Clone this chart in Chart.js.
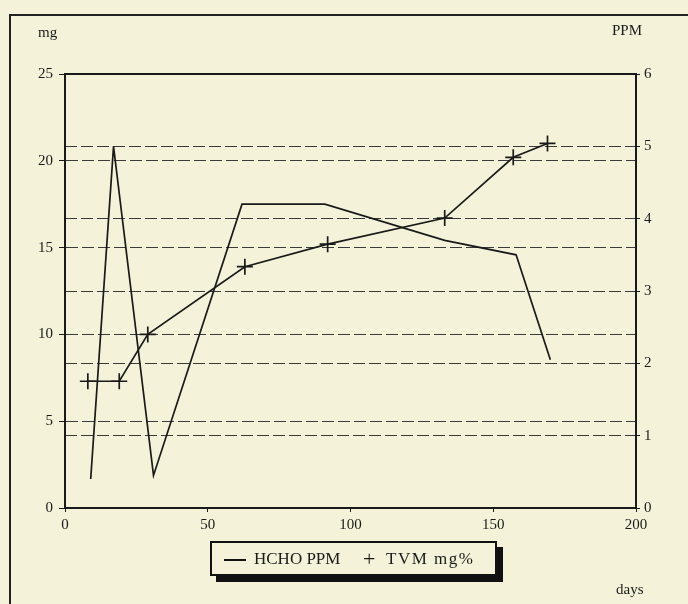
<!DOCTYPE html>
<html><head><meta charset="utf-8">
<script src="https://cdn.jsdelivr.net/npm/chart.js@4"></script>
<style>
html,body{margin:0;padding:0;background:#f4f3d9;}
#wrap{position:relative;width:688px;height:604px;overflow:hidden;background:#f4f3d9;font-family:"Liberation Serif","DejaVu Serif",serif;color:#1a1a1a;}
#frame{position:absolute;left:9px;top:14px;width:700px;height:620px;border:2px solid #222;box-sizing:border-box;}
canvas{position:absolute;left:0;top:0;}
.lbl{position:absolute;font-size:15px;}
#legend{position:absolute;left:210px;top:541px;width:287px;height:35px;border:2px solid #111;box-sizing:border-box;background:#f4f3d9;box-shadow:6px 6px 0 #111;font-size:17px;}
#legend span{position:absolute;white-space:pre;top:6px;}
#legend .ln{position:absolute;left:12px;top:16px;width:22px;height:0;border-top:2px solid #111;}
</style></head>
<body><div id="wrap">
<div id="frame"></div>
<canvas id="c" width="688" height="604"></canvas>
<div class="lbl" style="left:38px;top:24px;">mg</div>
<div class="lbl" style="left:612px;top:22px;">PPM</div>
<div class="lbl" style="left:616px;top:581px;">days</div>
<div id="legend"><div class="ln"></div><span style="left:42px;">HCHO PPM</span><span style="left:151px;top:3px;font-size:22px;">+</span><span style="left:174px;letter-spacing:1.5px;">TVM mg%</span></div>
</div>
<script>
const hchoDays = [9, 17, 31, 62, 91, 133, 158, 170];
const hchoPPM = [0.4, 5.0, 0.45, 4.2, 4.2, 3.7, 3.5, 2.05];
const tvmDays = [8, 19, 29, 63, 92, 133, 157, 169];
const tvmMg = [7.3, 7.3, 10.0, 13.9, 15.2, 16.7, 20.2, 21.0];
const xTicks = [0, 50, 100, 150, 200];
const mgTicks = [0, 5, 10, 15, 20, 25];
const ppmTicks = [0, 1, 2, 3, 4, 5, 6];

const frameBox = {
  id: 'frameBox',
  afterDatasetsDraw(chart) {
    const a = chart.chartArea, ctx = chart.ctx;
    ctx.save();
    ctx.strokeStyle = '#1a1a1a';
    ctx.lineWidth = 2;
    ctx.strokeRect(a.left, a.top, a.right - a.left, a.bottom - a.top);
    ctx.restore();
  }
};
const font = {family: '"Liberation Serif","DejaVu Serif",serif', size: 15};
new Chart(document.getElementById('c'), {
  type: 'line',
  data: {
    datasets: [
      {label: 'HCHO PPM', yAxisID: 'yR', data: hchoDays.map((d, i) => ({x: d, y: hchoPPM[i]})),
       borderColor: '#1a1a1a', borderWidth: 1.7, pointRadius: 0, tension: 0},
      {label: 'TVM mg%', yAxisID: 'yL', data: tvmDays.map((d, i) => ({x: d, y: tvmMg[i]})),
       borderColor: '#1a1a1a', borderWidth: 1.7, pointStyle: 'cross', pointRadius: 8, pointBorderWidth: 1.7,
       pointBorderColor: '#1a1a1a', tension: 0}
    ]
  },
  options: {
    responsive: false, animation: false,
    layout: {padding: {top: 74, left: 0, right: 0, bottom: 0}},
    plugins: {legend: {display: false}, tooltip: {enabled: false}},
    scales: {
      x: {type: 'linear', min: 0, max: 200,
          afterBuildTicks: s => { s.ticks = xTicks.map(v => ({value: v})); },
          afterFit: s => { s.height = 96; },
          grid: {drawOnChartArea: false, drawTicks: true, tickLength: 4, color: '#1a1a1a'},
          border: {display: true, color: '#1a1a1a', width: 2},
          ticks: {color: '#1a1a1a', font: font, padding: 4, maxRotation: 0}},
      yL: {position: 'left', min: 0, max: 25,
          afterBuildTicks: s => { s.ticks = mgTicks.map(v => ({value: v})); },
          afterFit: s => { s.width = 65; },
          grid: {color: c => (c.tick && (c.tick.value === 0 || c.tick.value === 25)) ? 'rgba(0,0,0,0)' : '#3a3a3a',
                 lineWidth: 1, drawTicks: true, tickLength: 6, tickColor: '#1a1a1a'},
          border: {display: true, color: '#1a1a1a', width: 2, dash: [12, 4]},
          ticks: {color: '#1a1a1a', font: font, padding: 6}},
      yR: {position: 'right', min: 0, max: 6,
          afterBuildTicks: s => { s.ticks = ppmTicks.map(v => ({value: v})); },
          afterFit: s => { s.width = 52; },
          grid: {color: c => (c.tick && (c.tick.value === 0 || c.tick.value === 6)) ? 'rgba(0,0,0,0)' : '#3a3a3a',
                 lineWidth: 1, drawTicks: true, tickLength: 4, tickColor: '#1a1a1a'},
          border: {display: true, color: '#1a1a1a', width: 2, dash: [12, 4]},
          ticks: {color: '#1a1a1a', font: font, padding: 4}}
    }
  },
  plugins: [frameBox]
});
</script>
</body></html>
